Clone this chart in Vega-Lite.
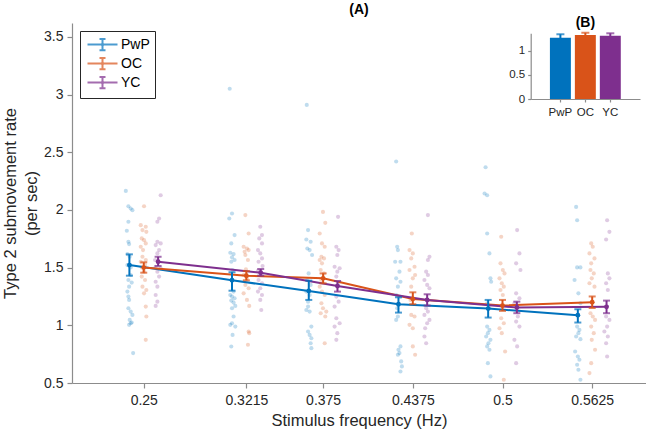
{
  "$schema": "https://vega.github.io/schema/vega-lite/v6.json",
  "width": 574,
  "height": 360,
  "autosize": {"type": "none"},
  "padding": {"left": 72, "top": 23, "right": 0, "bottom": 50},
  "background": "white",
  "config": {
    "view": {"stroke": null},
    "font": "Liberation Sans",
    "axis": {"grid": false, "domainColor": "#8c8c8c", "tickColor": "#8c8c8c", "labelColor": "#262626", "titleColor": "#262626", "titleFontWeight": "normal", "domainWidth": 1.2, "tickWidth": 1.2}
  },
  "title": {"text": "(A)", "fontSize": 14, "fontWeight": "bold", "anchor": "middle", "frame": "group", "offset": -1, "color": "#000000"},
  "datasets": {
    "dots": [
      {"g":"PwP","x":0.2375,"v":2.165},{"g":"PwP","x":0.2393,"v":2.032},{"g":"PwP","x":0.2409,"v":2.012},{"g":"PwP","x":0.2421,"v":1.998},{"g":"PwP","x":0.2393,"v":1.897},{"g":"PwP","x":0.2382,"v":1.82},{"g":"PwP","x":0.2393,"v":1.724},{"g":"PwP","x":0.2398,"v":1.704},{"g":"PwP","x":0.2386,"v":1.617},{"g":"PwP","x":0.2402,"v":1.594},{"g":"PwP","x":0.2386,"v":1.522},{"g":"PwP","x":0.2409,"v":1.502},{"g":"PwP","x":0.2409,"v":1.436},{"g":"PwP","x":0.2393,"v":1.393},{"g":"PwP","x":0.2416,"v":1.37},{"g":"PwP","x":0.2398,"v":1.335},{"g":"PwP","x":0.2386,"v":1.292},{"g":"PwP","x":0.2393,"v":1.249},{"g":"PwP","x":0.2398,"v":1.22},{"g":"PwP","x":0.2393,"v":1.148},{"g":"PwP","x":0.2409,"v":1.119},{"g":"PwP","x":0.2421,"v":1.09},{"g":"PwP","x":0.2402,"v":1.047},{"g":"PwP","x":0.2409,"v":1.018},{"g":"PwP","x":0.2398,"v":1.004},{"g":"PwP","x":0.2416,"v":1.024},{"g":"PwP","x":0.2426,"v":0.759},
      {"g":"OC","x":0.2502,"v":2.032},{"g":"OC","x":0.2479,"v":1.868},{"g":"OC","x":0.2514,"v":1.854},{"g":"OC","x":0.2491,"v":1.825},{"g":"OC","x":0.2518,"v":1.81},{"g":"OC","x":0.2486,"v":1.753},{"g":"OC","x":0.2502,"v":1.738},{"g":"OC","x":0.2514,"v":1.71},{"g":"OC","x":0.2479,"v":1.681},{"g":"OC","x":0.2495,"v":1.652},{"g":"OC","x":0.2491,"v":1.594},{"g":"OC","x":0.2514,"v":1.566},{"g":"OC","x":0.2479,"v":1.551},{"g":"OC","x":0.2509,"v":1.522},{"g":"OC","x":0.2486,"v":1.502},{"g":"OC","x":0.2502,"v":1.465},{"g":"OC","x":0.2486,"v":1.422},{"g":"OC","x":0.2509,"v":1.393},{"g":"OC","x":0.2491,"v":1.335},{"g":"OC","x":0.2518,"v":1.306},{"g":"OC","x":0.2502,"v":1.277},{"g":"OC","x":0.2514,"v":1.162},{"g":"OC","x":0.2518,"v":1.076},{"g":"OC","x":0.2514,"v":0.874},
      {"g":"YC","x":0.2618,"v":2.127},{"g":"YC","x":0.2607,"v":1.926},{"g":"YC","x":0.2595,"v":1.897},{"g":"YC","x":0.2595,"v":1.724},{"g":"YC","x":0.2618,"v":1.71},{"g":"YC","x":0.2583,"v":1.695},{"g":"YC","x":0.2607,"v":1.652},{"g":"YC","x":0.2595,"v":1.623},{"g":"YC","x":0.2579,"v":1.566},{"g":"YC","x":0.2583,"v":1.508},{"g":"YC","x":0.2618,"v":1.494},{"g":"YC","x":0.2595,"v":1.465},{"g":"YC","x":0.2607,"v":1.422},{"g":"YC","x":0.2583,"v":1.378},{"g":"YC","x":0.2595,"v":1.335},{"g":"YC","x":0.2583,"v":1.263},{"g":"YC","x":0.2595,"v":1.205},{"g":"YC","x":0.2583,"v":1.168},
      {"g":"PwP","x":0.3115,"v":1.969},{"g":"PwP","x":0.3096,"v":1.926},{"g":"PwP","x":0.3133,"v":1.782},{"g":"PwP","x":0.311,"v":1.71},{"g":"PwP","x":0.3103,"v":1.629},{"g":"PwP","x":0.3126,"v":1.617},{"g":"PwP","x":0.3115,"v":1.589},{"g":"PwP","x":0.3133,"v":1.566},{"g":"PwP","x":0.311,"v":1.551},{"g":"PwP","x":0.3119,"v":1.479},{"g":"PwP","x":0.3126,"v":1.292},{"g":"PwP","x":0.3103,"v":1.263},{"g":"PwP","x":0.3115,"v":1.249},{"g":"PwP","x":0.3133,"v":1.234},{"g":"PwP","x":0.311,"v":1.214},{"g":"PwP","x":0.3126,"v":1.197},{"g":"PwP","x":0.3138,"v":1.168},{"g":"PwP","x":0.3115,"v":1.148},{"g":"PwP","x":0.3126,"v":1.076},{"g":"PwP","x":0.3115,"v":1.018},{"g":"PwP","x":0.3138,"v":0.989},{"g":"PwP","x":0.3103,"v":1.004},{"g":"PwP","x":0.3119,"v":0.917},{"g":"PwP","x":0.311,"v":0.816},{"g":"PwP","x":0.3099,"v":3.05},
      {"g":"OC","x":0.3208,"v":1.955},{"g":"OC","x":0.3231,"v":1.796},{"g":"OC","x":0.3196,"v":1.681},{"g":"OC","x":0.3219,"v":1.666},{"g":"OC","x":0.3203,"v":1.638},{"g":"OC","x":0.3231,"v":1.652},{"g":"OC","x":0.3208,"v":1.609},{"g":"OC","x":0.3226,"v":1.566},{"g":"OC","x":0.3212,"v":1.485},{"g":"OC","x":0.3196,"v":1.436},{"g":"OC","x":0.3219,"v":1.407},{"g":"OC","x":0.3208,"v":1.35},{"g":"OC","x":0.3231,"v":1.321},{"g":"OC","x":0.3196,"v":1.277},{"g":"OC","x":0.3219,"v":1.22},{"g":"OC","x":0.3235,"v":1.168},{"g":"OC","x":0.3231,"v":0.946},{"g":"OC","x":0.3235,"v":0.932},{"g":"OC","x":0.3226,"v":0.831},
      {"g":"YC","x":0.3312,"v":1.854},{"g":"YC","x":0.3324,"v":1.782},{"g":"YC","x":0.3305,"v":1.753},{"g":"YC","x":0.3324,"v":1.71},{"g":"YC","x":0.3296,"v":1.652},{"g":"YC","x":0.3312,"v":1.623},{"g":"YC","x":0.3324,"v":1.58},{"g":"YC","x":0.33,"v":1.551},{"g":"YC","x":0.3328,"v":1.514},{"g":"YC","x":0.3296,"v":1.473},{"g":"YC","x":0.33,"v":1.393},{"g":"YC","x":0.3324,"v":1.364},{"g":"YC","x":0.3312,"v":1.321},{"g":"YC","x":0.3296,"v":1.292},{"g":"YC","x":0.3324,"v":1.263},{"g":"YC","x":0.3312,"v":1.22},{"g":"YC","x":0.3319,"v":1.133},
      {"g":"PwP","x":0.3645,"v":1.825},{"g":"PwP","x":0.3633,"v":1.744},{"g":"PwP","x":0.3663,"v":1.724},{"g":"PwP","x":0.364,"v":1.666},{"g":"PwP","x":0.3656,"v":1.652},{"g":"PwP","x":0.3673,"v":1.609},{"g":"PwP","x":0.3649,"v":1.45},{"g":"PwP","x":0.364,"v":1.393},{"g":"PwP","x":0.3663,"v":1.35},{"g":"PwP","x":0.3633,"v":1.292},{"g":"PwP","x":0.3656,"v":1.263},{"g":"PwP","x":0.3645,"v":1.205},{"g":"PwP","x":0.3645,"v":1.162},{"g":"PwP","x":0.3633,"v":1.133},{"g":"PwP","x":0.3656,"v":1.119},{"g":"PwP","x":0.3668,"v":0.989},{"g":"PwP","x":0.3645,"v":0.946},{"g":"PwP","x":0.3656,"v":0.917},{"g":"PwP","x":0.3668,"v":0.888},{"g":"PwP","x":0.3663,"v":0.845},{"g":"PwP","x":0.3668,"v":0.802},{"g":"PwP","x":0.3636,"v":2.91},
      {"g":"OC","x":0.3749,"v":1.983},{"g":"OC","x":0.3765,"v":1.888},{"g":"OC","x":0.3726,"v":1.796},{"g":"OC","x":0.3742,"v":1.71},{"g":"OC","x":0.3761,"v":1.681},{"g":"OC","x":0.3738,"v":1.594},{"g":"OC","x":0.3756,"v":1.58},{"g":"OC","x":0.3726,"v":1.566},{"g":"OC","x":0.3742,"v":1.537},{"g":"OC","x":0.3733,"v":1.479},{"g":"OC","x":0.3756,"v":1.45},{"g":"OC","x":0.3738,"v":1.393},{"g":"OC","x":0.3726,"v":1.335},{"g":"OC","x":0.3742,"v":1.292},{"g":"OC","x":0.3761,"v":1.263},{"g":"OC","x":0.3738,"v":1.191},{"g":"OC","x":0.3749,"v":1.148},{"g":"OC","x":0.3733,"v":1.105},{"g":"OC","x":0.3772,"v":1.119},{"g":"OC","x":0.3765,"v":1.076},{"g":"OC","x":0.3761,"v":0.845},
      {"g":"YC","x":0.3854,"v":1.94},{"g":"YC","x":0.3842,"v":1.681},{"g":"YC","x":0.3858,"v":1.652},{"g":"YC","x":0.3849,"v":1.609},{"g":"YC","x":0.383,"v":1.508},{"g":"YC","x":0.3865,"v":1.494},{"g":"YC","x":0.3849,"v":1.465},{"g":"YC","x":0.3842,"v":1.422},{"g":"YC","x":0.3865,"v":1.378},{"g":"YC","x":0.3842,"v":1.249},{"g":"YC","x":0.3858,"v":1.205},{"g":"YC","x":0.383,"v":1.162},{"g":"YC","x":0.3842,"v":1.061},{"g":"YC","x":0.3865,"v":1.018},{"g":"YC","x":0.383,"v":0.989},{"g":"YC","x":0.3849,"v":0.932},{"g":"YC","x":0.3842,"v":0.874},
      {"g":"PwP","x":0.4266,"v":1.681},{"g":"PwP","x":0.4271,"v":1.652},{"g":"PwP","x":0.4252,"v":1.551},{"g":"PwP","x":0.4289,"v":1.551},{"g":"PwP","x":0.4282,"v":1.465},{"g":"PwP","x":0.4259,"v":1.407},{"g":"PwP","x":0.4289,"v":1.378},{"g":"PwP","x":0.4271,"v":1.335},{"g":"PwP","x":0.4259,"v":1.263},{"g":"PwP","x":0.4289,"v":1.249},{"g":"PwP","x":0.4266,"v":1.148},{"g":"PwP","x":0.4271,"v":1.076},{"g":"PwP","x":0.4259,"v":1.047},{"g":"PwP","x":0.4289,"v":0.817},{"g":"PwP","x":0.4275,"v":0.788},{"g":"PwP","x":0.4282,"v":0.759},{"g":"PwP","x":0.4271,"v":0.745},{"g":"PwP","x":0.4294,"v":0.687},{"g":"PwP","x":0.4299,"v":0.644},{"g":"PwP","x":0.4289,"v":0.6},{"g":"PwP","x":0.4259,"v":2.42},
      {"g":"OC","x":0.4368,"v":1.796},{"g":"OC","x":0.4352,"v":1.652},{"g":"OC","x":0.4375,"v":1.623},{"g":"OC","x":0.4364,"v":1.58},{"g":"OC","x":0.4387,"v":1.508},{"g":"OC","x":0.4352,"v":1.479},{"g":"OC","x":0.4391,"v":1.436},{"g":"OC","x":0.4375,"v":1.407},{"g":"OC","x":0.4364,"v":1.335},{"g":"OC","x":0.4359,"v":1.22},{"g":"OC","x":0.4364,"v":1.09},{"g":"OC","x":0.4387,"v":1.076},{"g":"OC","x":0.4352,"v":1.004},{"g":"OC","x":0.4375,"v":0.975},{"g":"OC","x":0.4375,"v":0.817},{"g":"OC","x":0.4391,"v":0.745},
      {"g":"YC","x":0.448,"v":1.955},{"g":"YC","x":0.4491,"v":1.594},{"g":"YC","x":0.448,"v":1.566},{"g":"YC","x":0.4468,"v":1.465},{"g":"YC","x":0.448,"v":1.436},{"g":"YC","x":0.4456,"v":1.393},{"g":"YC","x":0.4475,"v":1.35},{"g":"YC","x":0.4491,"v":1.321},{"g":"YC","x":0.4468,"v":1.148},{"g":"YC","x":0.448,"v":1.119},{"g":"YC","x":0.4456,"v":1.09},{"g":"YC","x":0.4491,"v":1.047},{"g":"YC","x":0.4475,"v":1.018},{"g":"YC","x":0.4461,"v":0.975},{"g":"YC","x":0.4456,"v":0.903},{"g":"YC","x":0.4468,"v":0.845},
      {"g":"PwP","x":0.4875,"v":2.142},{"g":"PwP","x":0.4893,"v":2.127},{"g":"PwP","x":0.4893,"v":1.796},{"g":"PwP","x":0.4909,"v":1.623},{"g":"PwP","x":0.4916,"v":1.407},{"g":"PwP","x":0.4921,"v":1.378},{"g":"PwP","x":0.4893,"v":1.191},{"g":"PwP","x":0.4909,"v":1.148},{"g":"PwP","x":0.4893,"v":0.989},{"g":"PwP","x":0.4909,"v":0.96},{"g":"PwP","x":0.4898,"v":0.932},{"g":"PwP","x":0.4886,"v":0.903},{"g":"PwP","x":0.4916,"v":0.874},{"g":"PwP","x":0.4902,"v":0.845},{"g":"PwP","x":0.4893,"v":0.817},{"g":"PwP","x":0.4909,"v":0.788},{"g":"PwP","x":0.4898,"v":0.672},{"g":"PwP","x":0.4916,"v":0.557},{"g":"PwP","x":0.4882,"v":2.37},
      {"g":"OC","x":0.4991,"v":1.767},{"g":"OC","x":0.4986,"v":1.537},{"g":"OC","x":0.5002,"v":1.479},{"g":"OC","x":0.5014,"v":1.45},{"g":"OC","x":0.4979,"v":1.407},{"g":"OC","x":0.4995,"v":1.364},{"g":"OC","x":0.5009,"v":1.335},{"g":"OC","x":0.4986,"v":1.306},{"g":"OC","x":0.5002,"v":1.263},{"g":"OC","x":0.4991,"v":1.061},{"g":"OC","x":0.5009,"v":1.018},{"g":"OC","x":0.4979,"v":0.975},{"g":"OC","x":0.4995,"v":0.932},{"g":"OC","x":0.5018,"v":0.773},{"g":"OC","x":0.5009,"v":0.528},
      {"g":"YC","x":0.5102,"v":1.825},{"g":"YC","x":0.5118,"v":1.623},{"g":"YC","x":0.5095,"v":1.537},{"g":"YC","x":0.5125,"v":1.479},{"g":"YC","x":0.5095,"v":1.277},{"g":"YC","x":0.5118,"v":1.234},{"g":"YC","x":0.5083,"v":1.191},{"g":"YC","x":0.5107,"v":1.076},{"g":"YC","x":0.5095,"v":1.032},{"g":"YC","x":0.5118,"v":0.989},{"g":"YC","x":0.5083,"v":0.874},{"g":"YC","x":0.5102,"v":0.817},{"g":"YC","x":0.5095,"v":0.672},
      {"g":"PwP","x":0.5513,"v":2.026},{"g":"PwP","x":0.552,"v":1.911},{"g":"PwP","x":0.552,"v":1.502},{"g":"PwP","x":0.5543,"v":1.502},{"g":"PwP","x":0.5502,"v":1.393},{"g":"PwP","x":0.5529,"v":1.277},{"g":"PwP","x":0.5543,"v":1.191},{"g":"PwP","x":0.552,"v":0.989},{"g":"PwP","x":0.5536,"v":0.96},{"g":"PwP","x":0.5529,"v":0.932},{"g":"PwP","x":0.5513,"v":0.903},{"g":"PwP","x":0.5543,"v":0.88},{"g":"PwP","x":0.5506,"v":0.773},{"g":"PwP","x":0.5525,"v":0.73},{"g":"PwP","x":0.5536,"v":0.701},{"g":"PwP","x":0.552,"v":0.658},{"g":"PwP","x":0.5529,"v":0.615},{"g":"PwP","x":0.5543,"v":0.528},
      {"g":"OC","x":0.5618,"v":1.71},{"g":"OC","x":0.5629,"v":1.681},{"g":"OC","x":0.5606,"v":1.623},{"g":"OC","x":0.5641,"v":1.58},{"g":"OC","x":0.5618,"v":1.537},{"g":"OC","x":0.5613,"v":1.479},{"g":"OC","x":0.5636,"v":1.45},{"g":"OC","x":0.5622,"v":1.407},{"g":"OC","x":0.5606,"v":1.364},{"g":"OC","x":0.5641,"v":1.335},{"g":"OC","x":0.5613,"v":1.105},{"g":"OC","x":0.5629,"v":1.076},{"g":"OC","x":0.5645,"v":1.047},{"g":"OC","x":0.5618,"v":0.989},{"g":"OC","x":0.5636,"v":0.932},{"g":"OC","x":0.5622,"v":0.874},{"g":"OC","x":0.5645,"v":0.788},{"g":"OC","x":0.5618,"v":0.672},{"g":"OC","x":0.5606,"v":0.586},
      {"g":"YC","x":0.5729,"v":1.911},{"g":"YC","x":0.5745,"v":1.81},{"g":"YC","x":0.5722,"v":1.744},{"g":"YC","x":0.5734,"v":1.45},{"g":"YC","x":0.5745,"v":1.407},{"g":"YC","x":0.5722,"v":1.364},{"g":"YC","x":0.5734,"v":1.306},{"g":"YC","x":0.5722,"v":1.076},{"g":"YC","x":0.5745,"v":1.047},{"g":"YC","x":0.5729,"v":0.989},{"g":"YC","x":0.571,"v":0.946},{"g":"YC","x":0.5734,"v":0.903},{"g":"YC","x":0.5722,"v":0.845},{"g":"YC","x":0.5729,"v":0.73}
    ],
    "means": [
      {"f":0.25,"g":"PwP","x":0.24,"m":1.522,"lo":1.43,"hi":1.615},
      {"f":0.3215,"g":"PwP","x":0.3115,"m":1.39,"lo":1.30,"hi":1.46},
      {"f":0.375,"g":"PwP","x":0.365,"m":1.298,"lo":1.22,"hi":1.387},
      {"f":0.4375,"g":"PwP","x":0.4275,"m":1.183,"lo":1.11,"hi":1.243},
      {"f":0.5,"g":"PwP","x":0.49,"m":1.145,"lo":1.067,"hi":1.22},
      {"f":0.5625,"g":"PwP","x":0.5525,"m":1.088,"lo":1.024,"hi":1.139},
      {"f":0.25,"g":"OC","x":0.25,"m":1.50,"lo":1.456,"hi":1.546},
      {"f":0.3215,"g":"OC","x":0.3215,"m":1.43,"lo":1.39,"hi":1.47},
      {"f":0.375,"g":"OC","x":0.375,"m":1.407,"lo":1.364,"hi":1.45},
      {"f":0.4375,"g":"OC","x":0.4375,"m":1.229,"lo":1.183,"hi":1.286},
      {"f":0.5,"g":"OC","x":0.5,"m":1.171,"lo":1.125,"hi":1.22},
      {"f":0.5625,"g":"OC","x":0.5625,"m":1.20,"lo":1.15,"hi":1.25},
      {"f":0.25,"g":"YC","x":0.26,"m":1.551,"lo":1.514,"hi":1.594},
      {"f":0.3215,"g":"YC","x":0.3315,"m":1.456,"lo":1.43,"hi":1.488},
      {"f":0.375,"g":"YC","x":0.385,"m":1.341,"lo":1.292,"hi":1.384},
      {"f":0.4375,"g":"YC","x":0.4475,"m":1.22,"lo":1.171,"hi":1.269},
      {"f":0.5,"g":"YC","x":0.51,"m":1.154,"lo":1.105,"hi":1.205},
      {"f":0.5625,"g":"YC","x":0.5725,"m":1.16,"lo":1.105,"hi":1.214}
    ],
    "overall": [
      {"g":"PwP","m":1.27,"lo":1.20,"hi":1.34},
      {"g":"OC","m":1.325,"lo":1.28,"hi":1.37},
      {"g":"YC","m":1.31,"lo":1.26,"hi":1.36}
    ]
  },
  "layer": [
    {
      "layer": [
        {
          "data": {"name": "dots"},
          "mark": {"type": "circle", "size": 17, "opacity": 0.25},
          "encoding": {
            "x": {"field": "x", "type": "quantitative",
              "scale": {"domain": [0.2, 0.6], "nice": false, "zero": false},
              "axis": {"values": [0.25, 0.3215, 0.375, 0.4375, 0.5, 0.5625], "format": ".4~g", "title": "Stimulus frequency (Hz)", "titleFontSize": 16.5, "titlePadding": 5, "labelFontSize": 14, "labelPadding": 5, "tickSize": 5}},
            "y": {"field": "v", "type": "quantitative",
              "scale": {"domain": [0.5, 3.62], "nice": false, "zero": false},
              "axis": {"values": [0.5, 1, 1.5, 2, 2.5, 3, 3.5], "format": ".2~g", "title": ["Type 2 submovement rate", "(per sec)"], "titleFontSize": 16.5, "titleLineHeight": 21, "titlePadding": 4, "labelFontSize": 14, "labelPadding": 4, "tickSize": 5}},
            "color": {"field": "g", "type": "nominal",
              "scale": {"domain": ["PwP", "OC", "YC"], "range": ["#0072BD", "#D95319", "#7E2F8E"]},
              "legend": {"orient": "top-left", "offset": 8, "title": null, "strokeColor": "#262626", "fillColor": "white", "padding": 5, "labelFontSize": 14, "labelColor": "#000000", "labelOffset": 10, "symbolOffset": 9, "rowPadding": -2.5,
                "symbolType": "M-2,0H2M0,-0.75V0.75M-0.4,-0.75H0.4M-0.4,0.75H0.4M-0.1,0a0.1,0.1 0 1,0 0.2,0a0.1,0.1 0 1,0 -0.2,0",
                "symbolSize": 225, "symbolStrokeWidth": 2, "symbolFillColor": "transparent", "symbolOpacity": 1}}
          }
        },
        {
          "data": {"name": "means"},
          "mark": {"type": "line", "strokeWidth": 2},
          "encoding": {
            "x": {"field": "x", "type": "quantitative"},
            "y": {"field": "m", "type": "quantitative"},
            "color": {"field": "g", "type": "nominal"},
            "order": {"field": "f", "type": "quantitative"}
          }
        },
        {
          "data": {"name": "means"},
          "mark": {"type": "rule", "strokeWidth": 2},
          "encoding": {
            "x": {"field": "x", "type": "quantitative"},
            "y": {"field": "lo", "type": "quantitative"},
            "y2": {"field": "hi"},
            "color": {"field": "g", "type": "nominal"}
          }
        },
        {
          "data": {"name": "means"},
          "mark": {"type": "tick", "orient": "horizontal", "size": 7, "thickness": 2},
          "encoding": {
            "x": {"field": "x", "type": "quantitative"},
            "y": {"field": "lo", "type": "quantitative"},
            "color": {"field": "g", "type": "nominal"}
          }
        },
        {
          "data": {"name": "means"},
          "mark": {"type": "tick", "orient": "horizontal", "size": 7, "thickness": 2},
          "encoding": {
            "x": {"field": "x", "type": "quantitative"},
            "y": {"field": "hi", "type": "quantitative"},
            "color": {"field": "g", "type": "nominal"}
          }
        },
        {
          "data": {"name": "means"},
          "mark": {"type": "circle", "size": 24, "opacity": 1},
          "encoding": {
            "x": {"field": "x", "type": "quantitative"},
            "y": {"field": "m", "type": "quantitative"},
            "color": {"field": "g", "type": "nominal"}
          }
        }
      ]
    },
    {
      "layer": [
        {
          "data": {"name": "overall"},
          "mark": {"type": "bar"},
          "encoding": {
            "x": {"field": "g", "type": "nominal", "sort": ["PwP", "OC", "YC"],
              "scale": {"domain": ["PwP", "OC", "YC"], "range": [458.7, 568], "paddingInner": 0.16, "paddingOuter": 0.77},
              "axis": {"orient": "bottom", "offset": -284, "title": null, "labelAngle": 0, "labelFontSize": 11.5, "labelPadding": 4, "tickSize": 3}},
            "y": {"field": "m", "type": "quantitative",
              "scale": {"domain": [0, 1.36], "range": [76, 10.3], "nice": false},
              "axis": {"orient": "left", "offset": -458.7, "values": [0, 0.5, 1], "format": ".2~g", "title": null, "labelFontSize": 11.5, "labelPadding": 3, "tickSize": 3}},
            "color": {"field": "g", "type": "nominal"}
          }
        },
        {
          "data": {"name": "overall"},
          "mark": {"type": "rule", "strokeWidth": 2},
          "encoding": {
            "x": {"field": "g", "type": "nominal"},
            "y": {"field": "lo", "type": "quantitative"},
            "y2": {"field": "hi"},
            "color": {"field": "g", "type": "nominal"}
          }
        },
        {
          "data": {"name": "overall"},
          "mark": {"type": "tick", "orient": "horizontal", "size": 8, "thickness": 2},
          "encoding": {
            "x": {"field": "g", "type": "nominal"},
            "y": {"field": "hi", "type": "quantitative"},
            "color": {"field": "g", "type": "nominal"}
          }
        },
        {
          "data": {"values": [{}]},
          "mark": {"type": "text", "fontSize": 14, "fontWeight": "bold", "baseline": "bottom", "dy": -3, "color": "#000000"},
          "encoding": {
            "x": {"datum": "OC", "type": "nominal"},
            "y": {"datum": 1.36, "type": "quantitative"},
            "text": {"value": "(B)"}
          }
        }
      ]
    }
  ],
  "resolve": {
    "scale": {"x": "independent", "y": "independent"},
    "axis": {"x": "independent", "y": "independent"}
  }
}
